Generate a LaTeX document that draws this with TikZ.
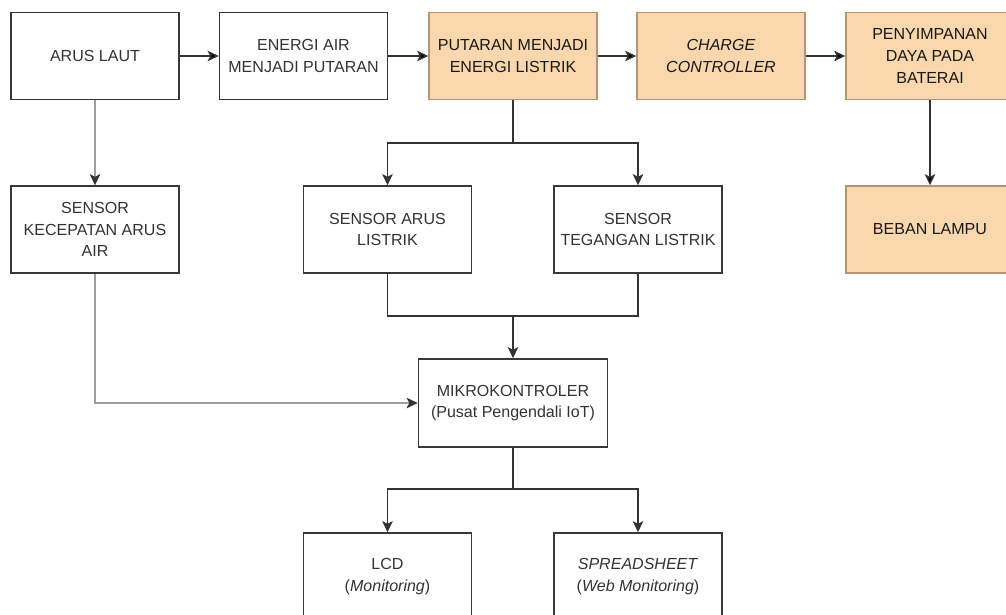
\documentclass[tikz,border=0pt]{standalone}
\usepackage{fontspec}
\setmainfont{Liberation Sans}
\usepackage{tikz}
\usetikzlibrary{calc,shapes,arrows.meta}
\definecolor{boxline}{HTML}{383838}
\definecolor{orangefill}{HTML}{FAD7AC}
\definecolor{orangeline}{HTML}{B49474}
\definecolor{greyline}{HTML}{9E9E9E}
\tikzset{
   block node/.style={rectangle,draw=boxline,fill=white,line width=1pt,
                      minimum width=4.2cm,minimum height=2.175cm,inner sep=1pt,
                      align=center,text=black!80,font=\fontsize{11.4}{15.4}\selectfont},
   energy node/.style={block node,fill=orangefill,draw=orangeline,text=black!90},
   flow/.style={-{Stealth[length=8pt,width=7.5pt,inset=2pt]},line width=1pt,draw=black!80},
   flow grey/.style={-{Stealth[length=8pt,width=7.5pt,inset=2pt,color=black!80]},line width=1pt,draw=greyline}
}

\begin{document}
\begin{tikzpicture}[x=0.025cm,y=-0.025cm]
\clip (0,0) rectangle (1006,614);
\fill[white] (0,0) rectangle (1006,614);
% top row: energy path
\node[block node]  (arus)    at (95,56)    {ARUS LAUT};
\node[block node]  (energi)  at (303.5,56) {ENERGI AIR\\MENJADI PUTARAN};
\node[energy node] (putaran) at (513,56)   {PUTARAN MENJADI\\ENERGI LISTRIK};
\node[energy node] (charge)  at (721,56)   {\textit{CHARGE}\\\textit{CONTROLLER}};
\node[energy node] (simpan)  at (930,56)   {PENYIMPANAN\\DAYA PADA\\BATERAI};
% sensors and load
\node[block node]  (skec)      at (95,229.5)  {SENSOR\\KECEPATAN ARUS\\AIR};
\node[block node]  (sarus)     at (387.5,229.5) {SENSOR ARUS\\LISTRIK};
\node[block node]  (stegangan) at (638,229.5)   {SENSOR\\TEGANGAN LISTRIK};
\node[energy node] (beban)     at (930,229.5)   {BEBAN LAMPU};
% controller and outputs
\node[block node,minimum width=4.725cm,minimum height=2.2cm] (mikro) at (513,403)
     {MIKROKONTROLER\\(Pusat Pengendali IoT)};
\node[block node]  (lcd)   at (387.5,576.5) {LCD\\(\textit{Monitoring})};
\node[block node]  (sheet) at (638,576.5)   {\textit{SPREADSHEET}\\(\textit{Web Monitoring})};
%
\path[flow]
  (arus) edge (energi)
  (energi) edge (putaran)
  (putaran) edge (charge)
  (charge) edge (simpan)
  (simpan) edge (beban)
  ;
\draw[flow grey] (arus) -- (skec);
\draw[flow grey] (skec.south) |- (mikro.west);
%
\coordinate (split1) at (513,143);
\draw[line width=1pt,draw=black!80] (putaran.south) -- (split1);
\draw[flow] (split1) -| (sarus.north);
\draw[flow] (split1) -| (stegangan.north);
%
\coordinate (merge) at (513,316);
\draw[line width=1pt,draw=black!80] (sarus.south) |- (merge) -| (stegangan.south);
\draw[flow] (merge) -- (mikro.north);
%
\coordinate (split2) at (513,489);
\draw[line width=1pt,draw=black!80] (mikro.south) -- (split2);
\draw[flow] (split2) -| (lcd.north);
\draw[flow] (split2) -| (sheet.north);
\end{tikzpicture}
\end{document}
